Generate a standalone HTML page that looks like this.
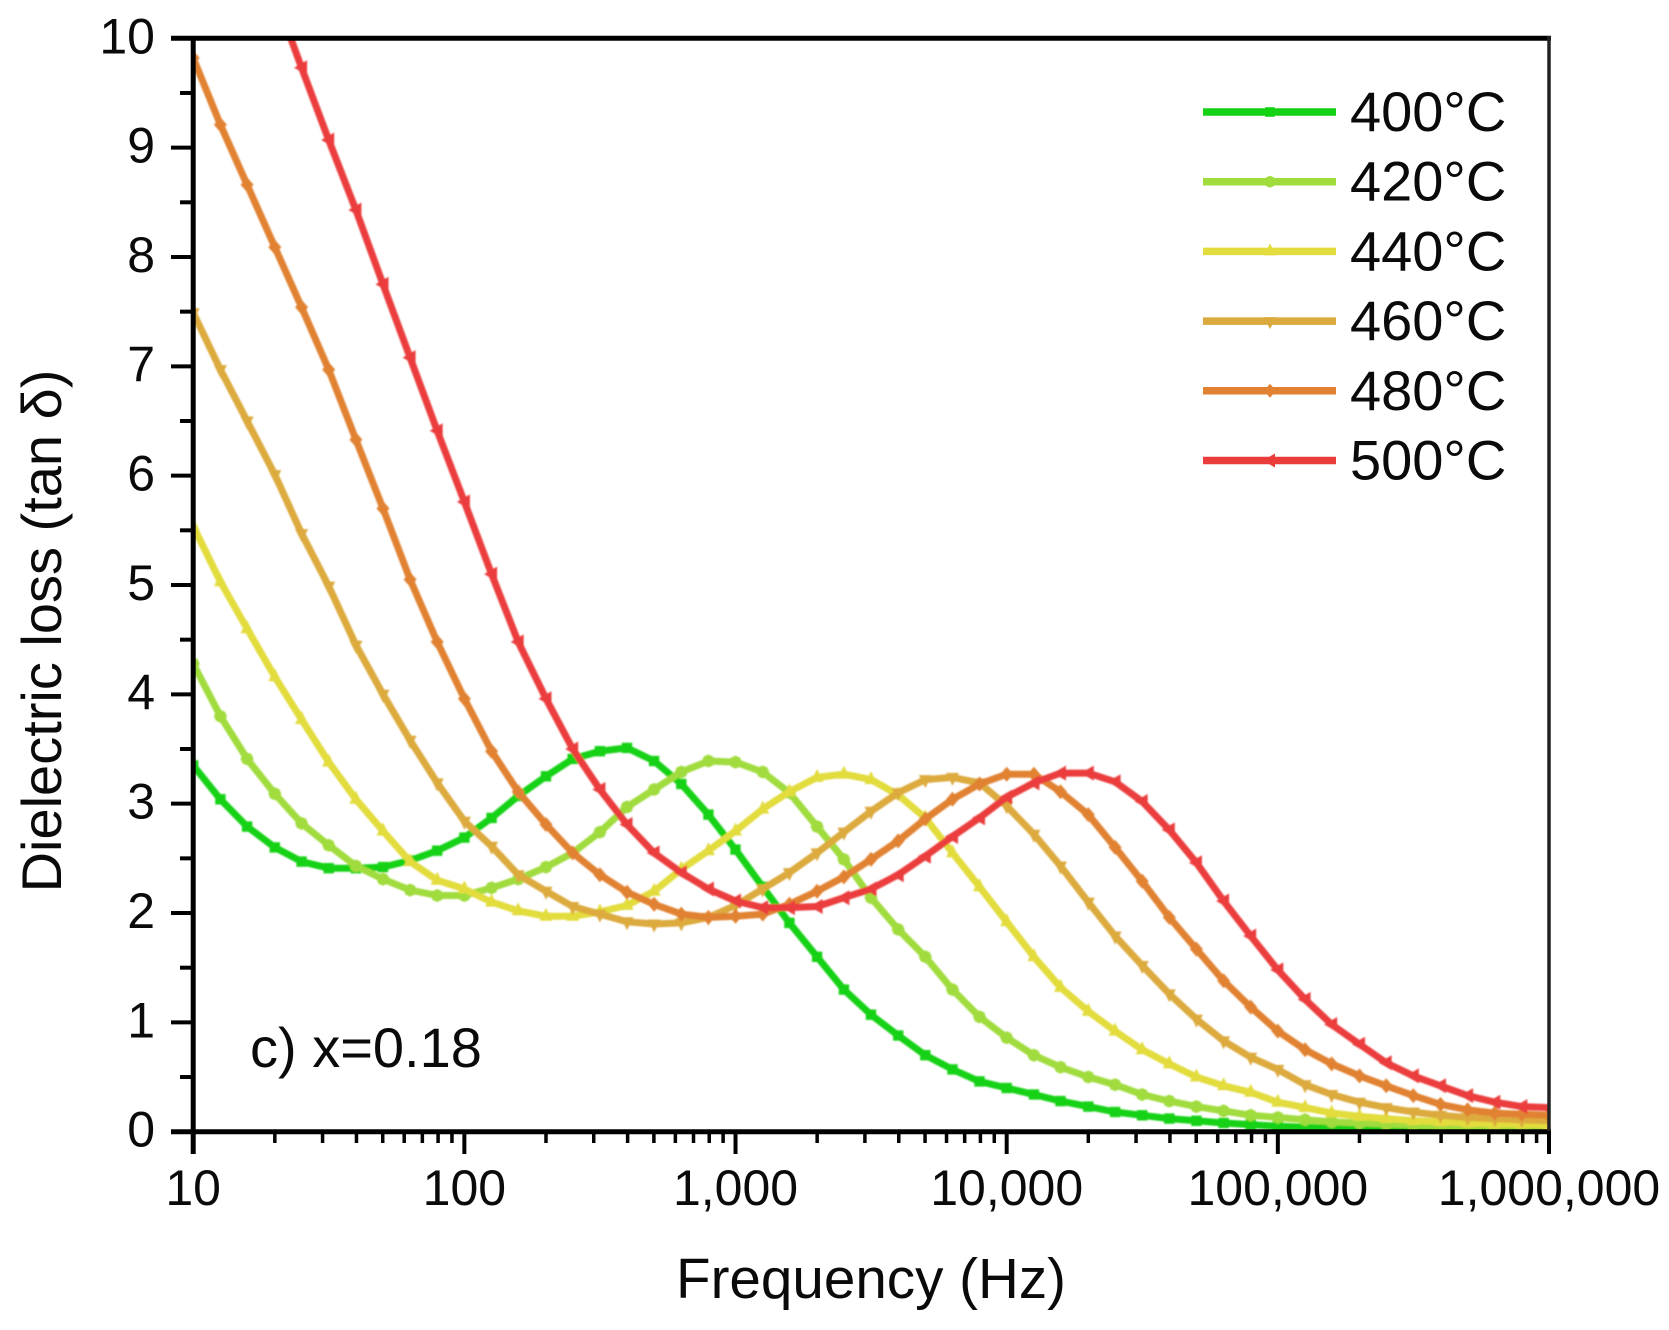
<!DOCTYPE html>
<html>
<head>
<meta charset="utf-8">
<title>Dielectric loss vs frequency</title>
<style>
html,body{margin:0;padding:0;background:#fff;}
svg{display:block;}
text{font-family:"Liberation Sans",sans-serif;fill:#0a0a0a;}
</style>
</head>
<body>
<svg id="chart" xmlns="http://www.w3.org/2000/svg" width="1669" height="1330" viewBox="0 0 1669 1330">
<defs>
<clipPath id="plot-clip"><rect x="193" y="38" width="1356" height="1093.7"></rect></clipPath>
<filter id="soft" x="-5%" y="-5%" width="110%" height="110%"><feGaussianBlur stdDeviation="0.7"></feGaussianBlur></filter>
</defs>
<g id="series-layer" clip-path="url(#plot-clip)" filter="url(#soft)"></g>
<g id="axes-layer"></g>
<g id="legend-layer"></g>
<text x="250" y="1067" font-size="56">c) x=0.18</text>
<text x="871" y="1298" font-size="56.6" text-anchor="middle">Frequency (Hz)</text>
<text transform="translate(61 631) rotate(-90)" font-size="56" text-anchor="middle">Dielectric loss (tan δ)</text>
</svg>
<script>
const frequencies = [10,12.6,15.8,20,25.1,31.6,39.8,50.1,63.1,79.4,
100,126,158,200,251,316,398,501,631,794,
1000,1260,1580,2000,2510,3160,3980,5010,6310,7940,
10000,12600,15800,20000,25100,31600,39800,50100,63100,79400,
100000,126000,158000,200000,251000,316000,398000,501000,631000,794000,1000000];

const loss400 = [3.35,3.04,2.79,2.60,2.47,2.41,2.41,2.42,2.48,2.57,
2.69,2.87,3.07,3.25,3.41,3.48,3.51,3.39,3.18,2.90,
2.58,2.24,1.91,1.60,1.30,1.07,0.88,0.70,0.57,0.46,
0.40,0.34,0.28,0.23,0.18,0.15,0.12,0.10,0.08,0.065,
0.05,0.04,0.03,0.025,0.02,0.015,0.012,0.01,0.008,0.006,0.005];

const loss420 = [4.28,3.80,3.41,3.09,2.82,2.62,2.43,2.31,2.21,2.16,
2.16,2.23,2.31,2.42,2.55,2.74,2.97,3.13,3.29,3.39,
3.38,3.29,3.10,2.79,2.49,2.14,1.85,1.60,1.30,1.05,
0.86,0.70,0.59,0.50,0.43,0.34,0.28,0.23,0.19,0.15,
0.13,0.11,0.09,0.08,0.07,0.06,0.05,0.05,0.04,0.04,0.04];

const loss440 = [5.54,5.03,4.60,4.16,3.77,3.38,3.04,2.75,2.47,2.30,
2.22,2.10,2.02,1.97,1.97,2.01,2.07,2.20,2.40,2.57,
2.75,2.95,3.11,3.24,3.27,3.22,3.08,2.87,2.55,2.24,
1.92,1.60,1.32,1.10,0.92,0.75,0.62,0.50,0.42,0.36,
0.27,0.22,0.17,0.14,0.12,0.10,0.09,0.08,0.07,0.07,0.06];

const loss460 = [7.49,6.97,6.50,6.01,5.47,4.99,4.45,4.00,3.58,3.19,
2.84,2.61,2.35,2.20,2.06,1.99,1.92,1.90,1.91,1.96,
2.07,2.22,2.37,2.55,2.74,2.93,3.10,3.22,3.24,3.19,
2.98,2.72,2.43,2.10,1.79,1.52,1.26,1.03,0.83,0.68,
0.57,0.43,0.34,0.27,0.22,0.18,0.15,0.13,0.12,0.11,0.10];

const loss480 = [9.82,9.21,8.66,8.09,7.54,6.97,6.33,5.70,5.05,4.48,
3.96,3.48,3.11,2.81,2.55,2.35,2.19,2.08,1.99,1.96,
1.97,1.99,2.08,2.20,2.33,2.49,2.66,2.86,3.04,3.18,
3.27,3.27,3.11,2.90,2.60,2.29,1.96,1.67,1.38,1.14,
0.92,0.75,0.62,0.51,0.42,0.33,0.25,0.20,0.17,0.16,0.15];

const loss500 = [12.5,11.8,11.1,10.4,9.73,9.07,8.43,7.75,7.08,6.41,
5.76,5.10,4.48,3.96,3.50,3.13,2.81,2.55,2.37,2.22,
2.11,2.05,2.05,2.06,2.14,2.22,2.35,2.52,2.70,2.87,
3.06,3.19,3.28,3.28,3.20,3.02,2.76,2.46,2.11,1.79,
1.48,1.21,0.98,0.80,0.63,0.51,0.42,0.33,0.27,0.23,0.22];

const seriesLabels = ["400°C","420°C","440°C","460°C","480°C","500°C"];
const seriesColors = ["#14d214","#a0dc3c","#e2dc3c","#dcaa3c","#e18232","#eb3c3c"];
const seriesMarkers = ["square","circle","up","down","diamond","left"];
const seriesValues = [loss400,loss420,loss440,loss460,loss480,loss500];

const xTickValues = [10,100,1000,10000,100000,1000000];
const xTickLabels = ["10","100","1,000","10,000","100,000","1,000,000"];
const yTickValues = [0,1,2,3,4,5,6,7,8,9,10];
const yTickLabels = ["0","1","2","3","4","5","6","7","8","9","10"];

const NS = "http://www.w3.org/2000/svg";
const X0 = 193.2, X1 = 1549, Y0 = 1131.7, Y1 = 38.3;
function xScale(f){ return X0 + (Math.log10(f) - 1) / 5 * (X1 - X0); }
function yScale(v){ return Y0 - v / 10 * (Y0 - Y1); }

function make(tag, parent, attrs){
  const el = document.createElementNS(NS, tag);
  for (const k in attrs) el.setAttribute(k, attrs[k]);
  parent.appendChild(el);
  return el;
}
function markerPoints(kind, x, y, r){
  let pts;
  if (kind === "square") pts = [[-r*0.8,-r*0.8],[r*0.8,-r*0.8],[r*0.8,r*0.8],[-r*0.8,r*0.8]];
  else if (kind === "up") pts = [[0,-r-2],[r,r-2],[-r,r-2]];
  else if (kind === "down") pts = [[0,r+2],[r,-r+2],[-r,-r+2]];
  else if (kind === "diamond") pts = [[0,-r-1],[r,0],[0,r+1],[-r,0]];
  else if (kind === "left") pts = [[-r-1,0],[r-1,-r-1],[r-1,r+1]];
  else pts = [[0,-r],[r*0.7,-r*0.7],[r,0],[r*0.7,r*0.7],[0,r],[-r*0.7,r*0.7],[-r,0],[-r*0.7,-r*0.7]];
  return pts.map(p => (x + p[0]).toFixed(1) + "," + (y + p[1]).toFixed(1)).join(" ");
}

const seriesLayer = document.getElementById("series-layer");
seriesValues.forEach((values, s) => {
  const group = make("g", seriesLayer, {});
  
  
  const line = make("polyline", group, {
    points: values.map((v,i) => xScale(frequencies[i]).toFixed(1) + "," + yScale(v).toFixed(1)).join(" "),
    fill: "none", stroke: seriesColors[s], "stroke-width": 7, "stroke-linejoin": "round"
  });
  
  
  values.forEach((v,i) => {
    const mark = make("polygon", group, {
      points: markerPoints(seriesMarkers[s], xScale(frequencies[i]), yScale(v), 6.5),
      fill: seriesColors[s]
    });
    
    
  });
});

const axes = document.getElementById("axes-layer");
function axisLine(x1,y1,x2,y2,w,color,name){
  const l = make("line", axes, {x1:x1,y1:y1,x2:x2,y2:y2,stroke:color,"stroke-width":w});
  
  
  return l;
}
axisLine(171,Y1,1551,Y1,5,"#000","top-axis-line");
axisLine(171,Y0,1551,Y0,5,"#000","x-axis-line");
axisLine(X0,36,X0,1154,5,"#000","y-axis-line");
axisLine(X1,36,X1,1154,3.5,"#222","right-axis-line");

yTickValues.forEach((v,i) => {
  axisLine(171,yScale(v),X0,yScale(v),4,"#000","y-tick");
  if (v < 10) axisLine(180,yScale(v+0.5),X0,yScale(v+0.5),4,"#000","y-minor-tick");
  const t = make("text", axes, {x:155,y:yScale(v)+15,"font-size":50,"text-anchor":"end"});
  
  
  t.textContent = yTickLabels[i];
});
xTickValues.forEach((f,i) => {
  axisLine(xScale(f),1131,xScale(f),1154,4,"#000","x-tick");
  if (i < xTickValues.length - 1) {
    for (let m = 2; m < 10; m++) axisLine(xScale(f*m),1131,xScale(f*m),1143,3.5,"#000","x-minor-tick");
  }
  const t = make("text", axes, {x:xScale(f),y:1205,"font-size":50,"text-anchor":"middle"});
  
  
  t.textContent = xTickLabels[i];
});

const legend = document.getElementById("legend-layer");
const legendRowHeight = 69.7, legendTop = 112;
seriesLabels.forEach((label,s) => {
  const y = legendTop + s * legendRowHeight;
  const entry = make("g", legend, {});
  
  
  const swatch = make("line", entry, {x1:1203,y1:y,x2:1336,y2:y,stroke:seriesColors[s],"stroke-width":7.5});
  
  
  const mk = make("polygon", entry, {points:markerPoints(seriesMarkers[s],1270,y,6),fill:seriesColors[s]});
  
  
  const t = make("text", entry, {x:1350,y:y+19,"font-size":56});
  
  
  t.textContent = label;
});
</script>
</body>
</html>
